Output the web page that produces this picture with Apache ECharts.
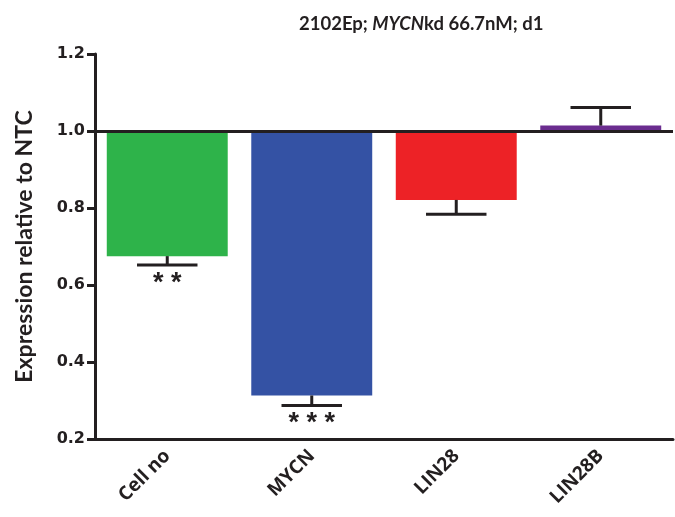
<!DOCTYPE html>
<html>
<head>
<meta charset="utf-8">
<script src="https://cdn.jsdelivr.net/npm/echarts@6/dist/echarts.min.js"></script>
<style>html,body{margin:0;padding:0;background:#fff;}#c{width:675px;height:517px;}</style>
</head>
<body>
<div id="c"></div>
<script>
var categories = ['Cell no', 'MYCN', 'LIN28', 'LIN28B'];
var means = [0.675, 0.313, 0.821, 1.014];
var errEnds = [0.652, 0.287, 0.784, 1.061];
var stars = ['**', '***', '', ''];
var colors = ['#2EB34A', '#3452A4', '#ED2226', '#6B2D8F'];
var yTicks = [0.2, 0.4, 0.6, 0.8, 1.0, 1.2];
var baseline = 1.0;

var ink = '#231f20';
var chart = echarts.init(document.getElementById('c'));
var data = categories.map(function (c, i) { return [i, means[i], errEnds[i]]; });

chart.setOption({
  animation: false,
  title: {
    text: '{a|2102Ep; }{b|MYCN}{a|kd 66.7nM; d1}',
    left: 294, top: 10,
    textStyle: {
      rich: {
        a: { fontFamily: 'Lato', fontWeight: 'bold', fontSize: 18.5, color: ink },
        b: { fontFamily: 'Lato', fontWeight: 'bold', fontStyle: 'italic', fontSize: 18.5, color: ink }
      }
    }
  },
  grid: { left: 95, right: 2, top: 54, bottom: 78 },
  xAxis: {
    type: 'category',
    data: categories,
    axisLine: { lineStyle: { color: ink, width: 3 } },
    axisTick: { alignWithLabel: true, length: 7, lineStyle: { color: ink, width: 3 } },
    axisLabel: { rotate: 45, margin: 14, fontFamily: 'Open Sans', fontWeight: 'bold', fontSize: 19, color: ink }
  },
  yAxis: {
    type: 'value',
    min: yTicks[0], max: yTicks[yTicks.length - 1], interval: 0.2,
    name: 'Expression relative to NTC',
    nameLocation: 'middle', nameGap: 59,
    nameTextStyle: { fontFamily: 'Lato', fontWeight: 'bold', fontSize: 23, color: ink },
    splitLine: { show: false },
    axisLine: { show: true, lineStyle: { color: ink, width: 3 } },
    axisTick: { show: true, length: 8, lineStyle: { color: ink, width: 3 } },
    axisLabel: { margin: 10, fontFamily: 'DejaVu Sans', fontWeight: 'bold', fontSize: 16, color: ink,
      formatter: function (v) { return v.toFixed(1); } }
  },
  series: [{
    type: 'custom',
    data: data,
    renderItem: function (params, api) {
      var idx = api.value(0), v = api.value(1), e = api.value(2);
      var band = api.size([1, 0])[0];
      var bw = band * 0.837;
      var pBase = api.coord([idx, baseline]);
      var pVal = api.coord([idx, v]);
      var pErr = api.coord([idx, e]);
      var cx = pBase[0];
      var y0 = Math.min(pBase[1], pVal[1]), y1 = Math.max(pBase[1], pVal[1]);
      var capHalf = bw * 0.25;
      var children = [
        { type: 'rect', shape: { x: cx - bw / 2, y: y0, width: bw, height: y1 - y0 },
          style: { fill: colors[idx] } },
        { type: 'line', shape: { x1: cx, y1: pVal[1], x2: cx, y2: pErr[1] },
          style: { stroke: ink, lineWidth: 3 } },
        { type: 'line', shape: { x1: cx - capHalf, y1: pErr[1], x2: cx + capHalf, y2: pErr[1] },
          style: { stroke: ink, lineWidth: 3 } }
      ];
      if (stars[idx]) {
        children.push({ type: 'text', x: cx, y: pErr[1] + 5,
          style: { text: stars[idx].split('').join(' '), fontFamily: 'Liberation Sans', fontWeight: 'bold', fontSize: 27,
            fill: ink, align: 'center', verticalAlign: 'top' } });
      }
      return { type: 'group', children: children };
    },
    markLine: {
      silent: true, symbol: 'none', label: { show: false },
      lineStyle: { color: ink, width: 3, type: 'solid' },
      data: [{ yAxis: baseline }]
    }
  }]
});
</script>
</body>
</html>
